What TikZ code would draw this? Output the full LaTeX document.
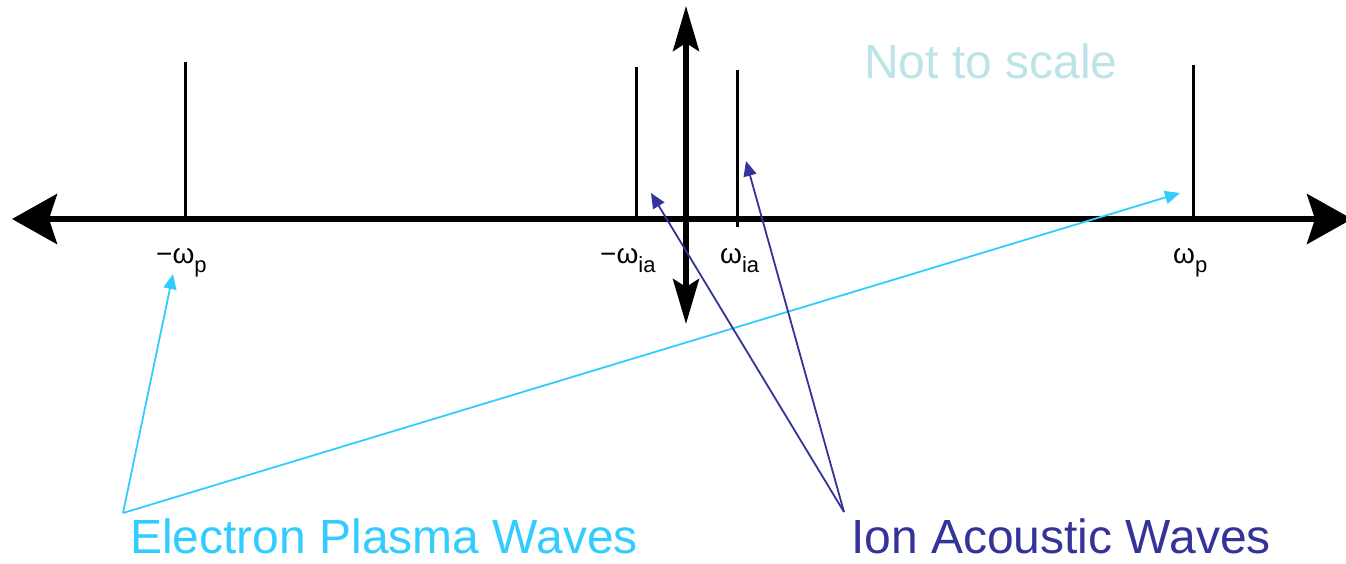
\documentclass[tikz,border=0pt]{standalone}
\usepackage{fontspec}
\setmainfont{Liberation Sans}
\usetikzlibrary{arrows.meta}
\definecolor{epw}{RGB}{51,204,255}
\definecolor{iaw}{RGB}{51,51,153}
\definecolor{nts}{RGB}{188,227,232}
\newcommand{\lbl}[2]{#1\raisebox{-9pt}{\fontsize{22}{22}\selectfont #2}}
\tikzset{
  axis/.style={line width=5.5pt},
  tick/.style={line width=3pt},
  bighead/.style={-{Stealth[length=45pt,width=50pt,inset=8pt]}},
  vhead/.style={-{Stealth[length=45pt,width=26pt,inset=8pt]}},
  pointer/.style={line width=1.8pt,-{Triangle[length=15pt,width=13pt]}},
  omlabel/.style={inner sep=0pt,anchor=base west,font=\fontsize{28}{28}\selectfont},
  bigtext/.style={inner sep=0pt,anchor=base west,text depth=0pt,font=\fontsize{48}{48}\selectfont}
}
\begin{document}
\begin{tikzpicture}[x=1pt,y=-1pt]
\useasboundingbox (0,0) rectangle (1346,563);
% axes
\coordinate (origin) at (686,219);
\coordinate (xl) at (12,219);
\coordinate (xr) at (1352,219);
\coordinate (yt) at (686,6);
\coordinate (yb) at (686,324);
\draw[axis,bighead] (origin) -- (xl);
\draw[axis,bighead] (origin) -- (xr);
\draw[axis,vhead] (origin) -- (yt);
\draw[axis,vhead] (origin) -- (yb);
% ticks
\coordinate (mpB) at (185,219); \coordinate (mpT) at (185,62);
\coordinate (miB) at (636,222); \coordinate (miT) at (636,67);
\coordinate (piB) at (737,227); \coordinate (piT) at (737,70);
\coordinate (ppB) at (1193,219); \coordinate (ppT) at (1193,65);
\draw[tick] (mpB) -- (mpT);
\draw[tick] (miB) -- (miT);
\draw[tick] (piB) -- (piT);
\draw[tick] (ppB) -- (ppT);
% labels
\node[omlabel] (lmp) at (156,263) {\lbl{−ω}{p}};
\node[omlabel] (lmi) at (600,263) {\lbl{−ω}{ia}};
\node[omlabel] (lpi) at (720,263) {\lbl{ω}{ia}};
\node[omlabel] (lpp) at (1173,263) {\lbl{ω}{p}};
% texts
\node[bigtext,text=nts] (nts) at (864,78) {Not to scale};
\node[bigtext,text=epw] (epwt) at (130,553) {Electron Plasma Waves};
\node[bigtext,text=iaw] (iawt) at (851,553) {Ion Acoustic Waves};
% pointers
\coordinate (ea) at (123,513);
\coordinate (et1) at (173,274);
\coordinate (et2) at (1180,193);
\coordinate (ia) at (844,512);
\coordinate (it1) at (651,193);
\coordinate (it2) at (746,161);
\draw[pointer,epw] (ea) -- (et1);
\draw[pointer,epw] (ea) -- (et2);
\draw[pointer,iaw] (ia) -- (it1);
\draw[pointer,iaw] (ia) -- (it2);
\end{tikzpicture}
\end{document}
